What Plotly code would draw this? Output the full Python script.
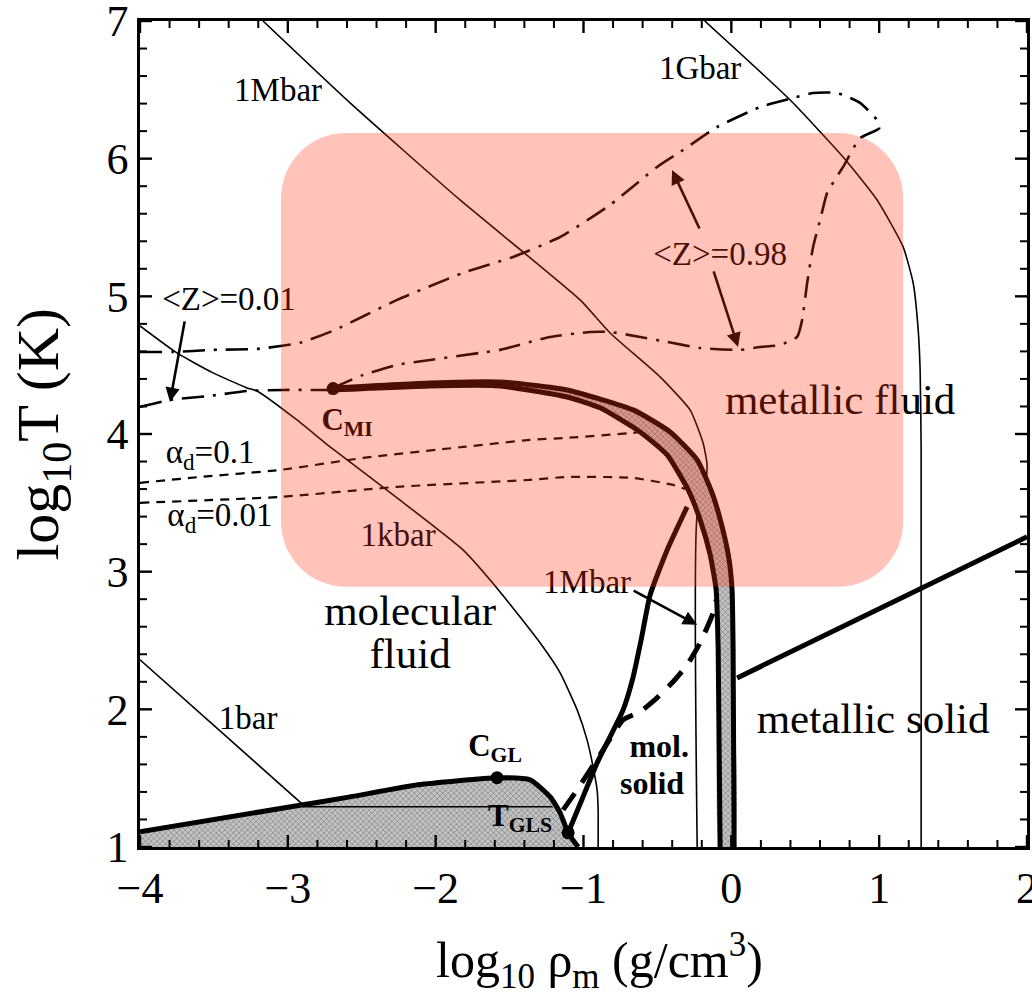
import plotly.graph_objects as go

# Hydrogen phase diagram: log10 density (g/cm^3) vs log10 temperature (K)

# --- isobars (thin solid) ---
isobar_1bar_x = [-4.0, -2.90]
isobar_1bar_y = [2.36, 1.31]

isobar_1kbar_x = [-4.000, -3.750, -3.506, -3.276, -3.208, -2.938, -2.714, -2.261,
                  -1.815, -1.564, -1.294, -1.158, -1.043, -0.976, -0.935, -0.908,
                  -0.901, -0.901]
isobar_1kbar_y = [4.785, 4.589, 4.444, 4.335, 4.313, 4.102, 3.906, 3.536,
                  3.158, 2.853, 2.483, 2.265, 1.996, 1.778, 1.582, 1.415,
                  1.270, 1.000]

isobar_1mbar_x = [-3.168, -2.579, -1.835, -1.023, -0.820, -0.482, -0.279, -0.191,
                  -0.164, -0.177, -0.231, -0.231]
isobar_1mbar_y = [7.000, 6.405, 5.700, 4.974, 4.734, 4.415, 4.175, 3.935,
                  3.776, 3.594, 3.412, 1.000]

isobar_1gbar_x = [-0.180, 0.398, 0.756, 0.986, 1.162, 1.230, 1.264, 1.277, 1.284, 1.284]
isobar_1gbar_y = [7.000, 6.426, 6.012, 5.700, 5.359, 5.097, 4.756, 4.465, 3.885, 1.000]

# --- gas-liquid coexistence boundary (thick) ---
coex_x = [-4.000, -2.897, -2.579, -2.120, -1.585, -1.361, -1.226, -1.158, -1.104, -1.036]
coex_y = [1.110, 1.307, 1.364, 1.452, 1.503, 1.488, 1.365, 1.248, 1.103, 1.000]

# triple-point temperature line
triple_x = [-2.90, -1.21]
triple_y = [1.292, 1.292]

# --- melting line (thick) ---
melt_x = [-1.104, -1.009, -0.908, -0.732, -0.664, -0.610, -0.549, -0.434, -0.299]
melt_y = [1.103, 1.349, 1.611, 1.996, 2.236, 2.505, 2.832, 3.158, 3.471]

# metastable extension (thick dashed)
meta_x = [-1.138, -1.043, -0.888, -0.732, -0.617, -0.516, -0.394, -0.299, -0.211, -0.123, -0.103]
meta_y = [1.270, 1.415, 1.670, 1.924, 1.982, 2.070, 2.200, 2.323, 2.483, 2.701, 2.795]

# --- plasma phase transition band ---
band_outer_x = [-2.694, -2.038, -1.564, -1.111, -0.664, -0.414, -0.231, -0.130,
                -0.062, -0.015, 0.005, 0.012, 0.019]
band_outer_y = [4.335, 4.371, 4.378, 4.320, 4.175, 4.015, 3.812, 3.572,
                3.325, 3.086, 2.868, 2.432, 1.000]
band_inner_x = [-2.694, -2.038, -1.564, -1.111, -0.888, -0.617, -0.434, -0.292,
                -0.211, -0.143, -0.103, -0.089, -0.076]
band_inner_y = [4.320, 4.349, 4.349, 4.269, 4.190, 4.015, 3.848, 3.594,
                3.376, 3.122, 2.868, 2.432, 1.000]

# metallic solid boundary (thick)
msolid_x = [0.039, 2.0]
msolid_y = [2.228, 3.253]

# --- ionisation contours <Z> (dash-dot) ---
z001_x = [-4.000, -3.797, -3.526, -3.276, -3.032, -2.802, -2.694]
z001_y = [4.197, 4.248, 4.277, 4.313, 4.320, 4.320, 4.320]

z098_x = [-4.000, -3.777, -3.506, -3.208, -2.917, -2.681, -2.261, -1.815, -1.476,
          -1.158, -0.820, -0.502, -0.326, -0.096, 0.195, 0.418, 0.553, 0.716,
          0.871, 0.993, 1.000, 0.871, 0.756, 0.648, 0.601, 0.553, 0.513, 0.479,
          0.445, 0.330, 0.195, 0.060, -0.211, -0.434, -0.617, -0.820, -0.955,
          -1.226, -1.564, -1.700, -2.038, -2.261, -2.491, -2.694]
z098_y = [4.596, 4.596, 4.611, 4.618, 4.662, 4.756, 4.974, 5.170, 5.286,
          5.431, 5.664, 5.940, 6.063, 6.230, 6.375, 6.441, 6.477, 6.477,
          6.405, 6.270, 6.220, 6.150, 5.940, 5.751, 5.555, 5.359, 5.097, 4.829,
          4.705, 4.647, 4.632, 4.611, 4.625, 4.669, 4.705, 4.741, 4.741,
          4.705, 4.611, 4.589, 4.538, 4.502, 4.429, 4.335]

# --- dissociation contours alpha_d (short dashes) ---
ad01_x = [-4.000, -3.594, -3.053, -2.491, -1.815, -1.361, -1.111, -0.664, -0.610]
ad01_y = [3.645, 3.688, 3.739, 3.826, 3.906, 3.957, 3.972, 4.008, 4.015]
ad001_x = [-4.000, -3.053, -2.261, -1.361, -1.111, -0.664, -0.394, -0.313]
ad001_y = [3.500, 3.543, 3.616, 3.667, 3.688, 3.681, 3.630, 3.601]

# critical and triple points
point_x = [-2.694, -1.585, -1.104]
point_y = [4.330, 1.503, 1.103]

# --- labels ---
plain_text = ["1Mbar", "1Gbar", "&lt;Z&gt;=0.01", "&lt;Z&gt;=0.98", "α<sub>d</sub>=0.1",
              "α<sub>d</sub>=0.01", "1kbar", "1Mbar", "1bar"]
plain_x = [-3.066, -0.211, -3.398, -0.076, -3.526, -3.459, -2.254, -0.976, -3.269]
plain_y = [6.477, 6.637, 4.959, 5.286, 3.848, 3.391, 3.245, 2.904, 1.917]

large_text = ["metallic fluid", "molecular", "fluid", "metallic solid"]
large_x = [0.736, -2.173, -2.173, 0.959]
large_y = [4.226, 2.690, 2.380, 1.909]

point_text = ["C<sub>MI</sub>", "C<sub>GL</sub>", "T<sub>GLS</sub>"]
point_text_x = [-2.599, -1.598, -1.429]
point_text_y = [4.088, 1.720, 1.212]

solid_text = ["mol.", "solid"]
solid_text_x = [-0.488, -0.536]
solid_text_y = [1.712, 1.444]

# arrows: (tail x, tail y, head x, head y)
arrow_tail_x = [-3.696, -0.211, -0.123, -0.671]
arrow_tail_y = [4.829, 5.482, 5.192, 2.868]
arrow_head_x = [-3.797, -0.401, 0.046, -0.231]
arrow_head_y = [4.233, 5.918, 4.632, 2.614]
arrow_color = ["black", "#4b0f05", "#4b0f05", "black"]

# axis ticks
x_major = [-4, -3, -2, -1, 0, 1, 2]
y_major = [1, 2, 3, 4, 5, 6, 7]
x_minor = [round(-4 + 0.2 * i, 1) for i in range(31) if i % 5]
y_minor = [round(1 + 0.2 * i, 1) for i in range(31) if i % 5]

SERIF = "Liberation Serif"
BLACK = "black"
PATTERN = dict(shape="x", size=4, solidity=0.35, fgcolor="#555555", bgcolor="#c2c2c2")
MAJOR_LEN, MINOR_LEN = 12, 7

fig = go.Figure()

# shaded coexistence region
fig.add_trace(go.Scatter(
    x=coex_x + [-1.036, -4.0], y=coex_y + [1.0, 1.0],
    fill="toself", mode="lines", line=dict(width=0, shape="spline", smoothing=0.5),
    fillcolor="#b0b0b0", fillpattern=PATTERN, hoverinfo="skip"))

# thin isobars
for xs, ys in [(isobar_1bar_x, isobar_1bar_y), (isobar_1kbar_x, isobar_1kbar_y),
               (isobar_1mbar_x, isobar_1mbar_y), (isobar_1gbar_x, isobar_1gbar_y),
               (triple_x, triple_y)]:
    fig.add_trace(go.Scatter(x=xs, y=ys, mode="lines",
                             line=dict(color=BLACK, width=1.6, shape="spline", smoothing=0.5),
                             hoverinfo="skip"))

# transition band fill
fig.add_trace(go.Scatter(
    x=band_outer_x + band_inner_x[::-1], y=band_outer_y + band_inner_y[::-1],
    fill="toself", mode="lines", line=dict(width=0, shape="spline", smoothing=0.5),
    fillcolor="#b0b0b0", fillpattern=PATTERN, hoverinfo="skip"))

# dissociation contours
for xs, ys in [(ad01_x, ad01_y), (ad001_x, ad001_y)]:
    fig.add_trace(go.Scatter(x=xs, y=ys, mode="lines",
                             line=dict(color=BLACK, width=2.2, dash="9px,7px",
                                       shape="spline", smoothing=0.5),
                             hoverinfo="skip"))

# ionisation contours
for xs, ys in [(z001_x, z001_y), (z098_x, z098_y)]:
    fig.add_trace(go.Scatter(x=xs, y=ys, mode="lines",
                             line=dict(color=BLACK, width=2.6, dash="22px,9px,3px,9px",
                                       shape="spline", smoothing=0.5),
                             hoverinfo="skip"))

# thick phase boundaries
for xs, ys in [(coex_x, coex_y), (melt_x, melt_y), (band_outer_x, band_outer_y),
               (band_inner_x, band_inner_y), (msolid_x, msolid_y)]:
    fig.add_trace(go.Scatter(x=xs, y=ys, mode="lines",
                             line=dict(color=BLACK, width=5, shape="spline", smoothing=0.5),
                             hoverinfo="skip"))

fig.add_trace(go.Scatter(x=meta_x, y=meta_y, mode="lines",
                         line=dict(color=BLACK, width=5, dash="20px,13px",
                                   shape="spline", smoothing=0.5),
                         hoverinfo="skip"))

fig.add_trace(go.Scatter(x=point_x, y=point_y, mode="markers",
                         marker=dict(color=BLACK, size=13), hoverinfo="skip"))

# text labels
fig.add_trace(go.Scatter(x=plain_x, y=plain_y, text=plain_text, mode="text",
                         textposition="middle center",
                         textfont=dict(family=SERIF, size=33, color=BLACK), hoverinfo="skip"))
fig.add_trace(go.Scatter(x=large_x, y=large_y, text=large_text, mode="text",
                         textposition="middle center",
                         textfont=dict(family=SERIF, size=43, color=BLACK), hoverinfo="skip"))
fig.add_trace(go.Scatter(x=point_text_x, y=point_text_y, text=point_text, mode="text",
                         textposition="middle center",
                         textfont=dict(family=SERIF, size=31, color=BLACK, weight="bold"),
                         hoverinfo="skip"))
fig.add_trace(go.Scatter(x=solid_text_x, y=solid_text_y, text=solid_text, mode="text",
                         textposition="middle center",
                         textfont=dict(family=SERIF, size=32, color=BLACK, weight="bold"),
                         hoverinfo="skip"))

# translucent highlight box with rounded corners (data coordinates)
bx0, bx1, by0, by1 = -3.046, 1.162, 2.890, 6.187
rx, ry, k = 0.44, 0.472, 0.5523
box_path = (
    f"M {bx0 + rx},{by1} L {bx1 - rx},{by1} "
    f"C {bx1 - rx + k * rx},{by1} {bx1},{by1 - ry + k * ry} {bx1},{by1 - ry} "
    f"L {bx1},{by0 + ry} "
    f"C {bx1},{by0 + ry - k * ry} {bx1 - rx + k * rx},{by0} {bx1 - rx},{by0} "
    f"L {bx0 + rx},{by0} "
    f"C {bx0 + rx - k * rx},{by0} {bx0},{by0 + ry - k * ry} {bx0},{by0 + ry} "
    f"L {bx0},{by1 - ry} "
    f"C {bx0},{by1 - ry + k * ry} {bx0 + rx - k * rx},{by1} {bx0 + rx},{by1} Z"
)
fig.add_shape(type="path", path=box_path, xref="x", yref="y", layer="above",
              fillcolor="rgba(255,51,17,0.294)", line=dict(width=0))


# inward tick marks on all four sides of the frame, fixed pixel length
def add_xticks(vals, length, width):
    for v in vals:
        for anchor, sign in ((0, 1), (1, -1)):
            fig.add_shape(type="line", xref="x", yref="paper", ysizemode="pixel",
                          yanchor=anchor, x0=v, x1=v, y0=0, y1=sign * length,
                          line=dict(color=BLACK, width=width), layer="above")


def add_yticks(vals, length, width):
    for v in vals:
        for anchor, sign in ((0, 1), (1, -1)):
            fig.add_shape(type="line", xref="paper", yref="y", xsizemode="pixel",
                          xanchor=anchor, y0=v, y1=v, x0=0, x1=sign * length,
                          line=dict(color=BLACK, width=width), layer="above")


add_xticks(x_major, MAJOR_LEN, 2.4)
add_xticks(x_minor, MINOR_LEN, 2)
add_yticks(y_major, MAJOR_LEN, 2.4)
add_yticks(y_minor, MINOR_LEN, 2)

annotations = []
for tx, ty, hx, hy, c in zip(arrow_tail_x, arrow_tail_y, arrow_head_x, arrow_head_y, arrow_color):
    annotations.append(dict(x=hx, y=hy, ax=tx, ay=ty, xref="x", yref="y",
                            axref="x", ayref="y", text="", showarrow=True,
                            arrowhead=2, arrowsize=1.1, arrowwidth=2.6, arrowcolor=c))

annotations.append(dict(text="log<sub>10</sub> ρ<sub>m</sub> (g/cm<sup>3</sup>)",
                        xref="paper", yref="paper", x=0.5186, y=-0.137,
                        xanchor="center", yanchor="middle", showarrow=False,
                        font=dict(family=SERIF, size=50, color=BLACK)))
annotations.append(dict(text="log<sub>10</sub>T (K)",
                        xref="paper", yref="paper", x=-0.110, y=0.50,
                        xanchor="center", yanchor="middle", showarrow=False,
                        textangle=-90,
                        font=dict(family=SERIF, size=60, color=BLACK)))

axis_common = dict(
    showgrid=False, zeroline=False, showline=True, linecolor=BLACK, linewidth=2.5,
    mirror=True, ticks="", tickmode="array", ticklabeloverflow="allow",
    automargin=False, tickfont=dict(family=SERIF, size=44, color=BLACK),
)

fig.update_layout(
    width=1032, height=994,
    margin=dict(l=140, r=5, t=21, b=147, autoexpand=False),
    paper_bgcolor="white", plot_bgcolor="white",
    showlegend=False,
    xaxis=dict(range=[-4, 2], tickvals=x_major, **axis_common),
    yaxis=dict(range=[1, 7], tickvals=y_major, **axis_common),
    annotations=annotations,
)

fig.write_html("out.html")
